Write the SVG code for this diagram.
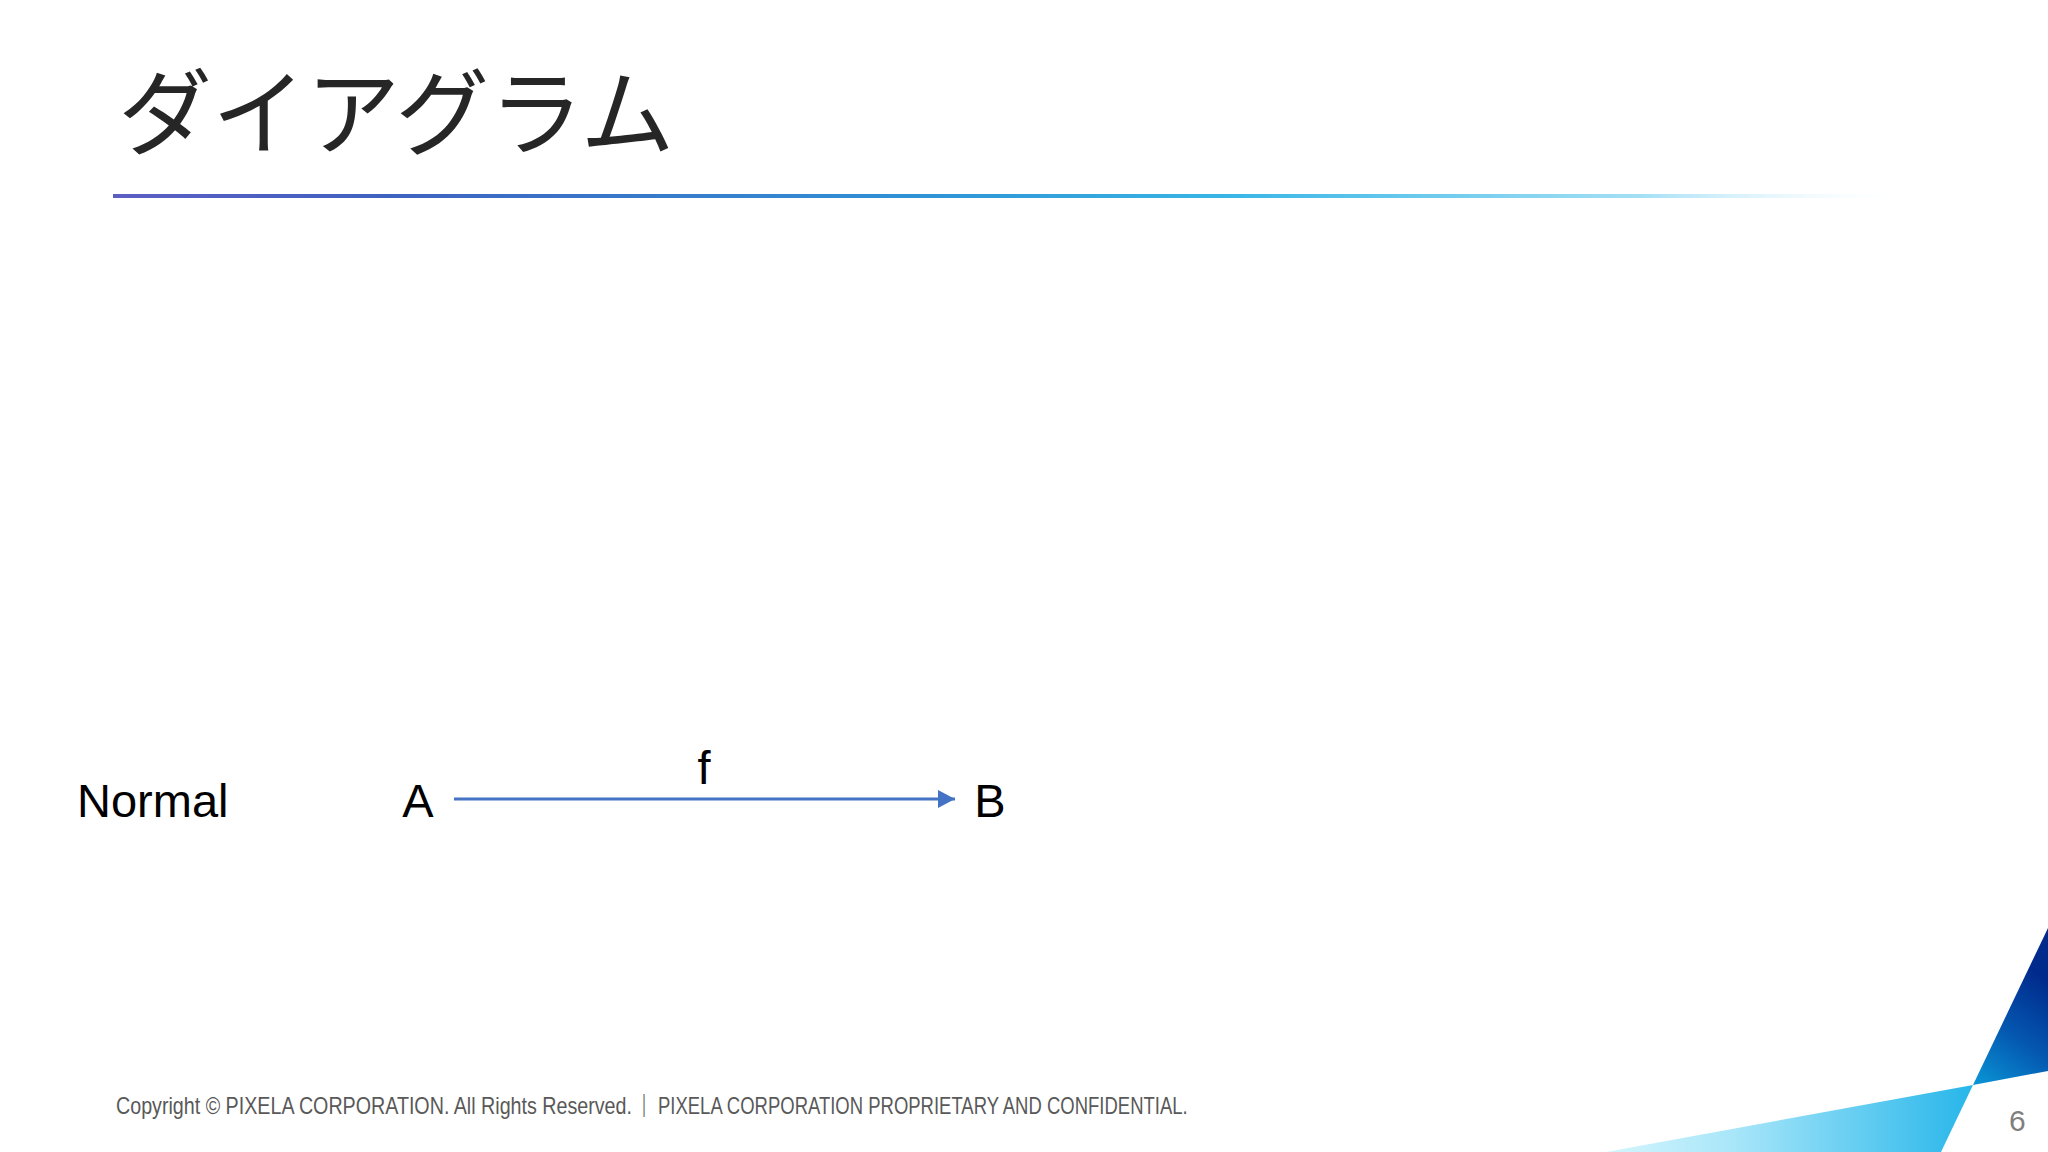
<svg xmlns="http://www.w3.org/2000/svg" width="2048" height="1152" viewBox="0 0 2048 1152">
  <defs>
    <style>
      .lbl { font-family: "Liberation Sans", Arial, sans-serif; font-size: 47px; fill: #000000; }
      .title { font-family: "Noto Sans CJK JP", "Noto Sans", sans-serif; font-size: 94px; font-weight: 400; fill: #262626; }
      .foot { font-family: "Liberation Sans", "Noto Sans CJK JP", sans-serif; font-size: 23px; fill: #595959; }
      .page { font-family: "Liberation Sans", sans-serif; font-size: 30px; fill: #7f7f7f; }
      .edge { stroke: #4472c4; stroke-width: 3; fill: none; }
    </style>
    <linearGradient id="rule" x1="114" y1="0" x2="1913" y2="0" gradientUnits="userSpaceOnUse">
      <stop offset="0" stop-color="#5d5ec4"/>
      <stop offset="0.15" stop-color="#3f62c0"/>
      <stop offset="0.45" stop-color="#2f93d6"/>
      <stop offset="0.62" stop-color="#38b6e6"/>
      <stop offset="0.85" stop-color="#a5e0f5"/>
      <stop offset="1" stop-color="#ffffff" stop-opacity="0"/>
    </linearGradient>
    <linearGradient id="dark" x1="1973" y1="1085" x2="2048" y2="980" gradientUnits="userSpaceOnUse">
      <stop offset="0" stop-color="#0a97d6"/>
      <stop offset="0.5" stop-color="#0457b0"/>
      <stop offset="1" stop-color="#002a8c"/>
    </linearGradient>
    <linearGradient id="light" x1="1606" y1="0" x2="1973" y2="0" gradientUnits="userSpaceOnUse">
      <stop offset="0" stop-color="#d4f5fd"/>
      <stop offset="0.35" stop-color="#a8e6f9"/>
      <stop offset="1" stop-color="#27b6ea"/>
    </linearGradient>
    <marker id="arrow" markerUnits="userSpaceOnUse" markerWidth="18" markerHeight="18" viewBox="0 0 18 18" refX="17" refY="9" orient="auto">
      <path d="M0,0 L17,9 L0,18 z" fill="#4472c4"/>
    </marker>
  </defs>

  <rect x="0" y="0" width="2048" height="1152" fill="#ffffff"/>

  <g id="title">
    <text class="title" x="118" y="148">ダイアグラム</text>
  </g>
  <g id="divider">
    <rect x="113" y="194" width="1800" height="4" fill="url(#rule)"/>
  </g>

  <g id="node-normal">
    <text class="lbl" x="77" y="817">Normal</text>
  </g>
  <g id="node-A">
    <text class="lbl" x="418" y="817" text-anchor="middle">A</text>
  </g>
  <g id="node-B">
    <text class="lbl" x="990" y="817" text-anchor="middle">B</text>
  </g>

  <g id="connectors">
    <line class="edge" x1="454" y1="799" x2="955" y2="799" marker-end="url(#arrow)"/>
    <text class="lbl" x="704" y="784" text-anchor="middle">f</text>
  </g>

  <g id="footer">
    <text class="foot" transform="translate(116 1114) scale(0.856 1)" x="0" y="0">Copyright © PIXELA CORPORATION. All Rights Reserved.</text>
    <text class="foot" x="644" y="1114" text-anchor="middle">｜</text>
    <text class="foot" transform="translate(658 1114) scale(0.804 1)" x="0" y="0">PIXELA CORPORATION PROPRIETARY AND CONFIDENTIAL.</text>
    <text class="page" x="2009" y="1131">6</text>
  </g>

  <g id="decoration">
    <polygon points="2048,928 1973,1085 2048,1071" fill="url(#dark)"/>
    <polygon points="1606,1152 1973,1085 1941,1152" fill="url(#light)"/>
  </g>
</svg>
